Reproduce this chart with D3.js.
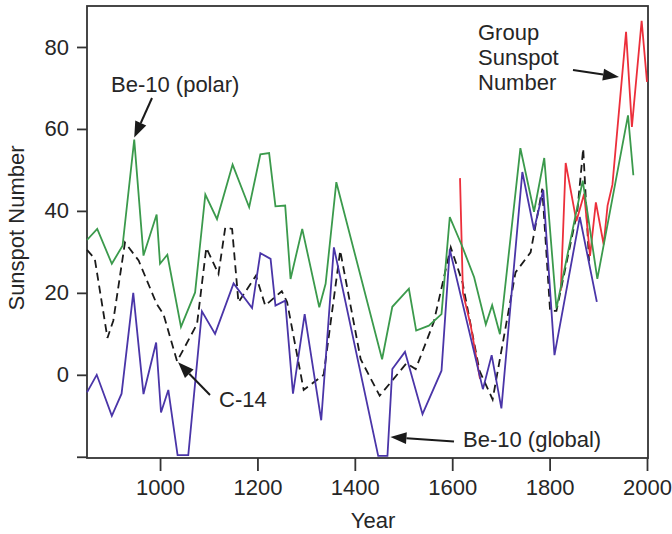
<!DOCTYPE html>
<html>
<head>
<meta charset="utf-8">
<script src="https://cdn.jsdelivr.net/npm/d3@7"></script>
<style>
  html, body { margin: 0; padding: 0; background: #fff; }
  svg { display: block; }
  text { font-family: "Liberation Sans", Arial, Helvetica, sans-serif; fill: #262626; }
</style>
</head>
<body>
<svg id="chart" width="672" height="534"></svg>
<script>
// Be-10 (polar ice cores) reconstruction
const polarYears = [850, 871, 901, 923, 947, 966, 993, 1000, 1015, 1043, 1072, 1093, 1117, 1149, 1183, 1206, 1224, 1237, 1257, 1268, 1292, 1327, 1340, 1362, 1456, 1477, 1511, 1526, 1552, 1578, 1595, 1620, 1645, 1669, 1682, 1698, 1740, 1768, 1789, 1814, 1868, 1898, 1961, 1972];
const polarValues = [32.9, 35.6, 27.1, 31.5, 57.4, 29.1, 39.1, 27.1, 29.3, 11.7, 20.1, 44, 38, 51.3, 40.9, 53.8, 54.1, 41.1, 41.3, 23.4, 35.6, 16.5, 22.2, 47, 3.8, 16.6, 21, 10.8, 12, 14.8, 38.5, 31.5, 23.8, 12.3, 17, 9.9, 55.3, 39.8, 52.9, 16.2, 47.4, 23.4, 63.3, 48.7];

// Be-10 (global production) reconstruction
const globalYears = [850, 870, 901, 921, 945, 966, 992, 1002, 1017, 1036, 1058, 1086, 1113, 1151, 1189, 1206, 1227, 1237, 1257, 1273, 1297, 1331, 1357, 1448, 1467, 1477, 1503, 1539, 1578, 1595, 1663, 1681, 1701, 1744, 1768, 1787, 1810, 1862, 1897];
const globalValues = [-4.3, 0, -10, -4.6, 20, -4.7, 7.9, -9.2, -3.7, -19.6, -19.6, 15.5, 10, 22.3, 16.3, 29.7, 28.3, 16.9, 18.1, -4.6, 14.8, -11.1, 31.1, -19.8, -19.8, 1.4, 5.6, -9.6, 1, 30.6, -3.5, 4.8, -8.2, 49.5, 35.4, 45.1, 4.8, 38.5, 17.8];

// C-14 (tree rings) reconstruction
const c14Years = [850, 866, 892, 904, 928, 956, 993, 1007, 1035, 1076, 1095, 1120, 1134, 1148, 1161, 1197, 1216, 1250, 1261, 1295, 1336, 1370, 1412, 1451, 1506, 1525, 1562, 1597, 1621, 1656, 1683, 1730, 1761, 1785, 1801, 1814, 1857, 1869, 1881];
const c14Values = [30.5, 28.3, 9, 13.2, 32.3, 27.9, 17.3, 14.8, 3.3, 12.4, 31, 24.6, 36, 35.6, 17.7, 24.2, 16.9, 20.4, 17.7, -3.7, 0, 30.3, 3.8, -5.1, 2.8, 1.4, 12.8, 31.1, 22.6, 1, -6, 25, 29.9, 45.4, 15.6, 15.6, 40, 55.2, 27.7];

// Group sunspot number (null marks a break in the record)
const gsnYears = [1616, 1622, 1638, 1657, 1740, 1823, 1833, 1855, 1871, 1883, 1895, 1911, 1919, 1929, 1957, 1969, 1989, 2000];
const gsnValues = [48, 20, 12, -1, null, 20.5, 51.7, 37.5, 44.2, 29, 42.1, 31.8, 41.3, 46.4, 83.7, 60.5, 86.4, 71.5];

const xTicks = [1000, 1200, 1400, 1600, 1800, 2000];
const yTicks = [-20, 0, 20, 40, 60, 80];
const yTickLabels = ["", "0", "20", "40", "60", "80"];

const svg = d3.select("#chart");
const plotLeft = 87, plotRight = 647, plotTop = 6, plotBottom = 458;

const x = d3.scaleLinear().domain([850, 2000]).range([plotLeft, plotRight]);
const y = d3.scaleLinear().domain([-20.3, 90]).range([plotBottom, plotTop]);

const axisColor = "#333";
const fontSize = 22;

// Frame
svg.append("rect")
  .attr("x", plotLeft).attr("y", plotTop)
  .attr("width", plotRight + 1 - plotLeft).attr("height", plotBottom - plotTop)
  .attr("fill", "none").attr("stroke", axisColor).attr("stroke-width", 1.8);

// Axes
const xAxis = svg.append("g")
  .attr("transform", `translate(0,${plotBottom})`)
  .call(d3.axisBottom(x).tickValues(xTicks).tickSize(13).tickPadding(8).tickFormat(d3.format("d")));
const yAxis = svg.append("g")
  .attr("transform", `translate(${plotLeft},0)`)
  .call(d3.axisLeft(y).tickValues(yTicks).tickSize(10).tickPadding(8)
    .tickFormat((d, i) => yTickLabels[i]));

[xAxis, yAxis].forEach(g => {
  g.select(".domain").remove();
  g.selectAll(".tick line").attr("stroke", axisColor).attr("stroke-width", 1.8);
  g.selectAll(".tick text")
    .attr("font-size", fontSize)
    .attr("font-family", "Liberation Sans, Arial, sans-serif")
    .attr("fill", "#262626");
});

// Axis titles
svg.append("text")
  .attr("x", 373).attr("y", 528)
  .attr("text-anchor", "middle").attr("font-size", fontSize)
  .text("Year");
svg.append("text")
  .attr("transform", "translate(24,228) rotate(-90)")
  .attr("text-anchor", "middle").attr("font-size", fontSize)
  .text("Sunspot Number");

// Series
const zip = (ys, vs) => ys.map((yr, i) => ({ year: yr, v: vs[i] }));
const line = d3.line()
  .defined(d => d.v != null)
  .x(d => x(d.year))
  .y(d => y(d.v));

const plot = svg.append("g");
plot.append("path").datum(zip(c14Years, c14Values))
  .attr("d", line).attr("fill", "none")
  .attr("stroke", "#1a1a1a").attr("stroke-width", 1.8)
  .attr("stroke-dasharray", "8,5");
plot.append("path").datum(zip(gsnYears, gsnValues))
  .attr("d", line).attr("fill", "none")
  .attr("stroke", "#ec2f3b").attr("stroke-width", 1.8);
plot.append("path").datum(zip(polarYears, polarValues))
  .attr("d", line).attr("fill", "none")
  .attr("stroke", "#3b9a4c").attr("stroke-width", 1.8);
plot.append("path").datum(zip(globalYears, globalValues))
  .attr("d", line).attr("fill", "none")
  .attr("stroke", "#4a35a8").attr("stroke-width", 1.8);

// Annotation arrows: a shaft ending in a filled triangular head
function arrow(x1, y1, x2, y2) {
  const ang = Math.atan2(y2 - y1, x2 - x1);
  const len = 16, half = 6;
  const bx = x2 - len * Math.cos(ang), by = y2 - len * Math.sin(ang);
  svg.append("line")
    .attr("x1", x1).attr("y1", y1).attr("x2", bx).attr("y2", by)
    .attr("stroke", "#1a1a1a").attr("stroke-width", 2);
  const px = -Math.sin(ang) * half, py = Math.cos(ang) * half;
  svg.append("path")
    .attr("d", `M${x2},${y2}L${bx + px},${by + py}L${bx - px},${by - py}Z`)
    .attr("fill", "#1a1a1a");
}

function label(tx, ty, lines) {
  const t = svg.append("text").attr("x", tx).attr("y", ty).attr("font-size", fontSize);
  lines.forEach((s, i) => {
    t.append("tspan").attr("x", tx).attr("dy", i === 0 ? 0 : 25).text(s);
  });
}

label(111, 92, ["Be-10 (polar)"]);
arrow(152, 98, x(947), y(57.4) - 2);

label(219, 407, ["C-14"]);
arrow(210, 395, x(1035) + 1, y(3.3) + 1);

label(463, 447, ["Be-10 (global)"]);
arrow(454, 441.5, x(1467) + 3, 437);

label(478, 40, ["Group", "Sunspot", "Number"]);
arrow(573, 70, 619, 77);
</script>
</body>
</html>
